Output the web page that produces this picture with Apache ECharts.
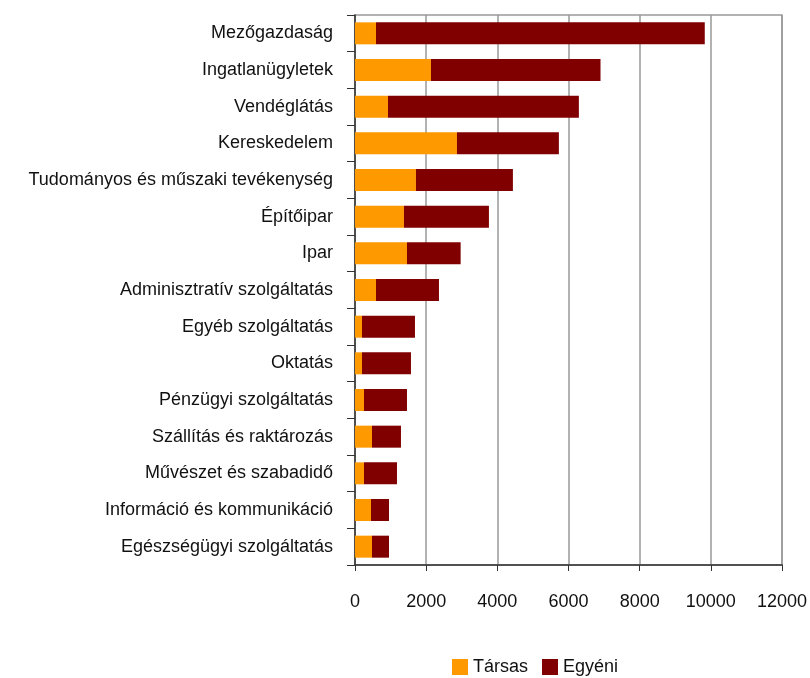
<!DOCTYPE html>
<html>
<head>
<meta charset="utf-8">
<script src="https://cdn.jsdelivr.net/npm/echarts@6/dist/echarts.min.js"></script>
<style>
html,body{margin:0;padding:0;background:#fff;}
#c{width:810px;height:678px;}
</style>
</head>
<body>
<div id="c"></div>
<script>
const categories = ["Mezőgazdaság","Ingatlanügyletek","Vendéglátás","Kereskedelem","Tudományos és műszaki tevékenység","Építőipar","Ipar","Adminisztratív szolgáltatás","Egyéb szolgáltatás","Oktatás","Pénzügyi szolgáltatás","Szállítás és raktározás","Művészet és szabadidő","Információ és kommunikáció","Egészségügyi szolgáltatás"];
const tarsas = [590, 2135, 927, 2865, 1713, 1376, 1461, 590, 197, 197, 253, 478, 253, 449, 478];
const egyeni = [9240, 4765, 5365, 2865, 2725, 2388, 1508, 1770, 1488, 1376, 1208, 814, 927, 506, 477];
const xTicks = [0, 2000, 4000, 6000, 8000, 10000, 12000];

const chart = echarts.init(document.getElementById('c'));
const font = '"Liberation Sans", Arial, sans-serif';
chart.setOption({
  animation: false,
  textStyle: {fontFamily: font},
  grid: {left: 355, right: 28, top: 15, bottom: 113, show: true, borderColor: '#999', borderWidth: 1.5, containLabel: false},
  legend: {
    data: ['Társas', 'Egyéni'],
    left: 447, top: 653,
    itemWidth: 16, itemHeight: 16, itemGap: 14,
    icon: 'rect',
    textStyle: {fontSize: 18, color: '#111', fontFamily: font}
  },
  xAxis: {
    type: 'value', min: xTicks[0], max: xTicks[xTicks.length-1], interval: 2000,
    axisLine: {show: true, lineStyle: {color: '#333', width: 1.5}},
    axisTick: {show: true, length: 6, lineStyle: {color: '#333'}},
    axisLabel: {fontSize: 18, color: '#111', margin: 28, fontFamily: font, formatter: function (v) { return String(v); }},
    splitLine: {show: true, lineStyle: {color: '#999', width: 1.5}}
  },
  yAxis: {
    type: 'category', data: categories, inverse: true,
    axisLine: {show: true, lineStyle: {color: '#333', width: 1.5}},
    axisTick: {show: true, length: 8, inside: false, lineStyle: {color: '#333'}},
    axisLabel: {fontSize: 18, color: '#111', margin: 22, fontFamily: font},
    splitLine: {show: false}
  },
  series: [
    {name: 'Társas', type: 'bar', stack: 'a', data: tarsas, barWidth: '60%', itemStyle: {color: '#FF9900'}},
    {name: 'Egyéni', type: 'bar', stack: 'a', data: egyeni, barWidth: '60%', itemStyle: {color: '#800000'}}
  ]
});
</script>
</body>
</html>
